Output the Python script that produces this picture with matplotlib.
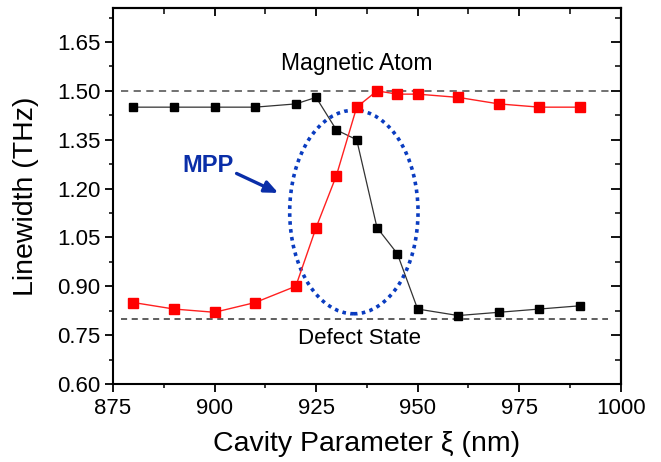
import numpy as np
import matplotlib
matplotlib.use("Agg")
import matplotlib.pyplot as plt
from matplotlib.patches import Ellipse
from matplotlib.ticker import MultipleLocator

plt.rcParams['font.family'] = ['Liberation Sans', 'DejaVu Sans']

# cavity parameter (nm)
xi = [880, 890, 900, 910, 920, 925, 930, 935, 940, 945, 950, 960, 970, 980, 990]
# linewidths (THz)
black_lw = [1.45, 1.45, 1.45, 1.45, 1.46, 1.48, 1.38, 1.35, 1.08, 1.00, 0.83, 0.81, 0.82, 0.83, 0.84]
red_lw = [0.85, 0.83, 0.82, 0.85, 0.90, 1.08, 1.24, 1.45, 1.50, 1.49, 1.49, 1.48, 1.46, 1.45, 1.45]

magnetic_atom = 1.50
defect_state = 0.80

fig = plt.figure(figsize=(6.61, 4.62), dpi=100)
ax = fig.add_axes([0.171, 0.169, 0.768, 0.814])

ax.hlines(magnetic_atom, 877, 998, colors='#666666', linestyles=(0, (4, 3)), linewidth=1.3)
ax.hlines(defect_state, 877, 997, colors='#333333', linestyles=(0, (4, 3)), linewidth=1.1)

ax.plot(xi, black_lw, color='#333333', lw=0.9, marker='s', ms=6, mfc='black', mec='black')
ax.plot(xi, red_lw, color='#ff2020', lw=1.0, marker='s', ms=6.5, mfc='#ff0000', mec='#ff0000')

ell = Ellipse((934.3, 1.128), 31.6, 0.625, fill=False, edgecolor='#0a3cc0',
              linestyle=(0, (1, 1.2)), linewidth=2.6)
ax.add_patch(ell)

ax.text(898.4, 1.27, 'MPP', color='#0a2ea8', fontsize=17, fontweight='bold', ha='center', va='center')
ax.annotate('', xy=(916.3, 1.183), xytext=(904.8, 1.25),
            arrowprops=dict(arrowstyle='-|>,head_length=0.8,head_width=0.35', color='#0a2ea8', lw=2.4))
ax.text(935.1, 1.585, 'Magnetic Atom', fontsize=16.5, ha='center', va='center')
ax.text(935.6, 0.74, 'Defect State', fontsize=16, ha='center', va='center')

ax.set_xlim(875, 1000)
ax.set_ylim(0.60, 1.755)
ax.xaxis.set_major_locator(MultipleLocator(25))
ax.xaxis.set_minor_locator(MultipleLocator(12.5))
ax.yaxis.set_major_locator(MultipleLocator(0.15))
ax.yaxis.set_minor_locator(MultipleLocator(0.075))
ax.yaxis.set_major_formatter(matplotlib.ticker.FormatStrFormatter('%.2f'))
ax.tick_params(which='major', direction='out', length=6, width=1.3, labelsize=16)
ax.tick_params(which='minor', direction='out', length=3, width=1.1)
ax.tick_params(axis='x', pad=4)
ax.tick_params(axis='y', pad=3)

top = ax.secondary_xaxis('top')
top.xaxis.set_major_locator(MultipleLocator(25))
top.xaxis.set_minor_locator(MultipleLocator(12.5))
top.tick_params(which='major', direction='in', length=6, width=1.3, labeltop=False)
top.tick_params(which='minor', direction='in', length=4, width=1.1)
right = ax.secondary_yaxis('right')
right.yaxis.set_major_locator(MultipleLocator(0.15))
right.yaxis.set_minor_locator(MultipleLocator(0.075))
right.tick_params(which='major', direction='in', length=7, width=1.3, labelright=False)
right.tick_params(which='minor', direction='in', length=4, width=1.1)

for sp in ax.spines.values():
    sp.set_linewidth(1.5)
top.spines['top'].set_linewidth(1.5)
right.spines['right'].set_linewidth(1.5)

ax.set_xlabel('Cavity Parameter ξ (nm)', fontsize=20.5, labelpad=9)
ax.set_ylabel('Linewidth (THz)', fontsize=20.5, labelpad=13)

fig.savefig('out.png', dpi=100)
